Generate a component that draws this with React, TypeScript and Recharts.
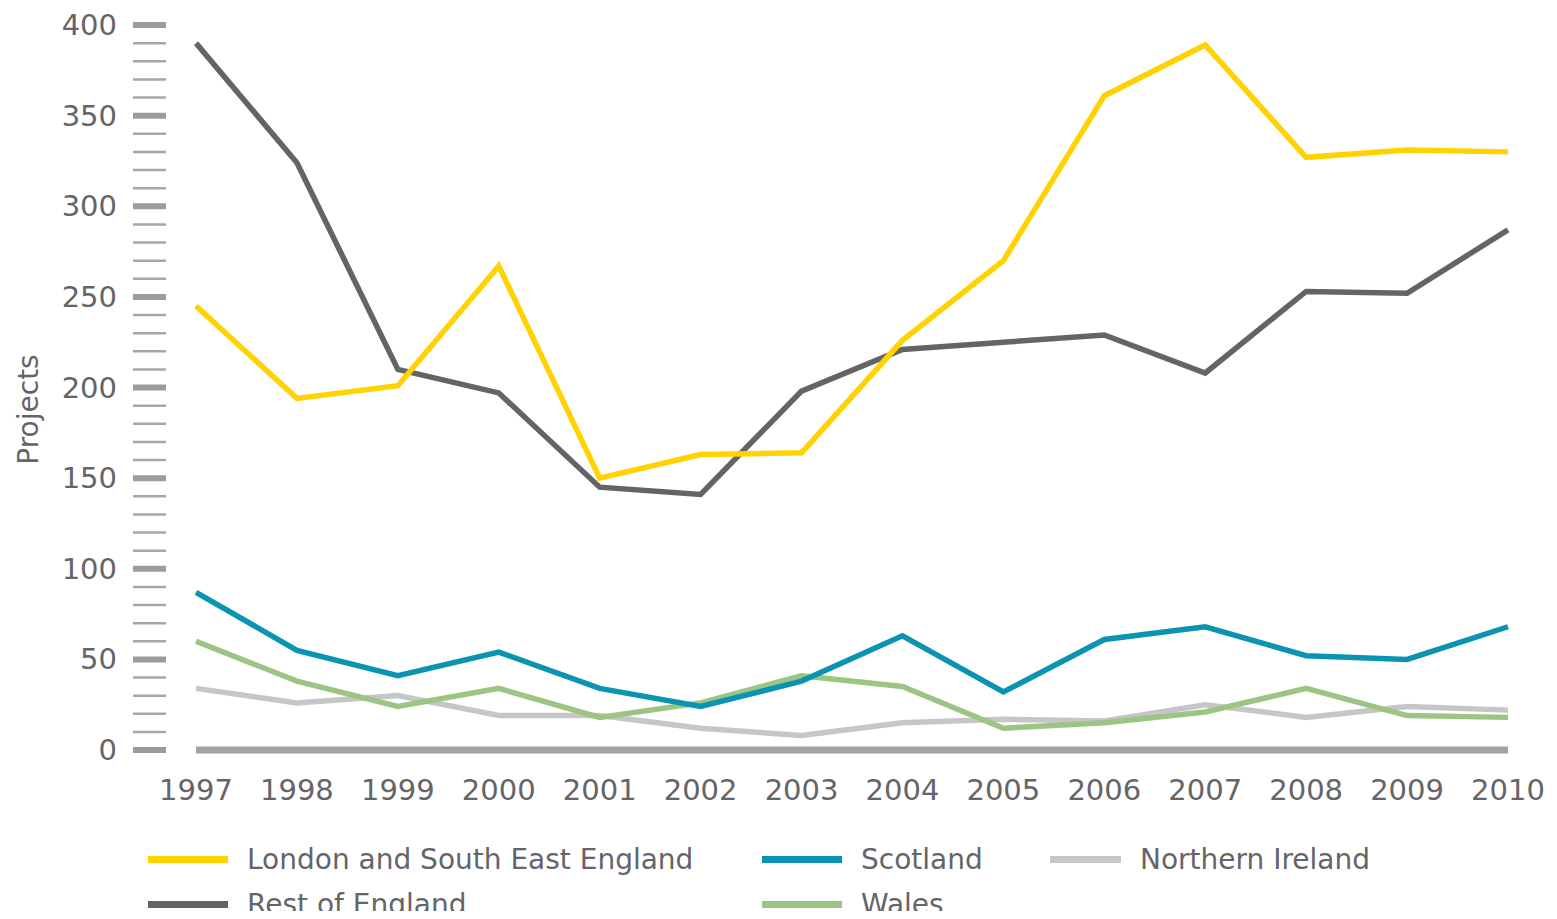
import { LineChart, Line, XAxis, YAxis, Legend } from "recharts";

const years = ["1997", "1998", "1999", "2000", "2001", "2002", "2003", "2004", "2005", "2006", "2007", "2008", "2009", "2010"];
const london = [245, 194, 201, 267, 150, 163, 164, 226, 270, 361, 389, 327, 331, 330];
const restOfEngland = [390, 324, 210, 197, 145, 141, 198, 221, 225, 229, 208, 253, 252, 287];
const scotland = [87, 55, 41, 54, 34, 24, 38, 63, 32, 61, 68, 52, 50, 68];
const wales = [60, 38, 24, 34, 18, 26, 41, 35, 12, 15, 21, 34, 19, 18];
const northernIreland = [34, 26, 30, 19, 19, 12, 8, 15, 17, 16, 25, 18, 24, 22];

const yTicks = [0, 10, 20, 30, 40, 50, 60, 70, 80, 90, 100, 110, 120, 130, 140, 150, 160, 170, 180, 190, 200,
  210, 220, 230, 240, 250, 260, 270, 280, 290, 300, 310, 320, 330, 340, 350, 360, 370, 380, 390, 400];

const data = years.map((year, i) => ({
  year,
  london: london[i],
  rest: restOfEngland[i],
  scotland: scotland[i],
  wales: wales[i],
  ni: northernIreland[i],
}));

const FONT = "'DejaVu Sans', sans-serif";
const TEXT = "#646469";

function YTick(props: any) {
  const { x, y, payload } = props;
  const major = payload.value % 50 === 0;
  return (
    <g>
      <line x1={x - 63} x2={x - 30} y1={y} y2={y} stroke={major ? "#9c9c9c" : "#a6a6a6"} strokeWidth={major ? 6 : 2.5} />
      {major && (
        <text x={x - 79} y={y} textAnchor="end" dominantBaseline="central" fontSize={29} fontFamily={FONT} fill={TEXT}>
          {payload.value}
        </text>
      )}
    </g>
  );
}

function XTick(props: any) {
  const { x, y, payload } = props;
  return (
    <text x={x} y={y + 40} textAnchor="middle" dominantBaseline="central" fontSize={29} fontFamily={FONT} fill={TEXT}>
      {payload.value}
    </text>
  );
}

const legendOrder = ["london", "scotland", "ni", "rest", "wales"];

function LegendContent(props: any) {
  const items = [...(props.payload || [])].sort(
    (a: any, b: any) => legendOrder.indexOf(a.dataKey) - legendOrder.indexOf(b.dataKey)
  );
  return (
    <div style={{ height: 99, paddingLeft: 148, paddingTop: 17, boxSizing: "border-box" }}>
      <div style={{ display: "grid", gridTemplateColumns: "614px 288px 320px", gridAutoRows: "45px" }}>
        {items.map((it: any) => (
          <div key={it.dataKey} style={{ display: "flex", alignItems: "center", height: 45 }}>
            <span style={{ display: "inline-block", width: 80, height: 7, background: it.color, marginRight: 19 }} />
            <span style={{ fontFamily: FONT, fontSize: 28, lineHeight: "32px", color: TEXT, whiteSpace: "nowrap" }}>{it.value}</span>
          </div>
        ))}
      </div>
    </div>
  );
}

function YLabel(props: any) {
  const vb = props.viewBox;
  const cx = 28;
  const cy = vb.y + vb.height / 2 + 22;
  return (
    <text x={cx} y={cy} transform={`rotate(-90 ${cx} ${cy})`} textAnchor="middle" dominantBaseline="central"
      fontSize={28} fontFamily={FONT} fill={TEXT}>
      Projects
    </text>
  );
}

export default function App() {
  return (
    <div style={{ width: 1557, height: 919, margin: -8, background: "#fff" }}>
      <LineChart width={1557} height={919} data={data} margin={{ top: 25, right: 49, bottom: 0, left: 0 }}>
        <XAxis dataKey="year" tick={<XTick />} tickLine={false} tickSize={0} tickMargin={0} height={70}
          axisLine={{ stroke: "#a3a3a3", strokeWidth: 7 }} interval={0} />
        <YAxis domain={[0, 400]} ticks={yTicks} interval={0} width={196} tick={<YTick />} tickLine={false}
          tickSize={0} tickMargin={0} axisLine={false} label={<YLabel />} />
        <Legend verticalAlign="bottom" content={<LegendContent />} />
        <Line dataKey="ni" name="Northern Ireland" stroke="#c6c6c8" strokeWidth={5.5} dot={false} isAnimationActive={false} />
        <Line dataKey="wales" name="Wales" stroke="#9cc584" strokeWidth={5.5} dot={false} isAnimationActive={false} />
        <Line dataKey="scotland" name="Scotland" stroke="#0b94b1" strokeWidth={5.5} dot={false} isAnimationActive={false} />
        <Line dataKey="rest" name="Rest of England" stroke="#646466" strokeWidth={5.5} dot={false} isAnimationActive={false} />
        <Line dataKey="london" name="London and South East England" stroke="#ffd200" strokeWidth={5.5} dot={false} isAnimationActive={false} />
      </LineChart>
    </div>
  );
}
